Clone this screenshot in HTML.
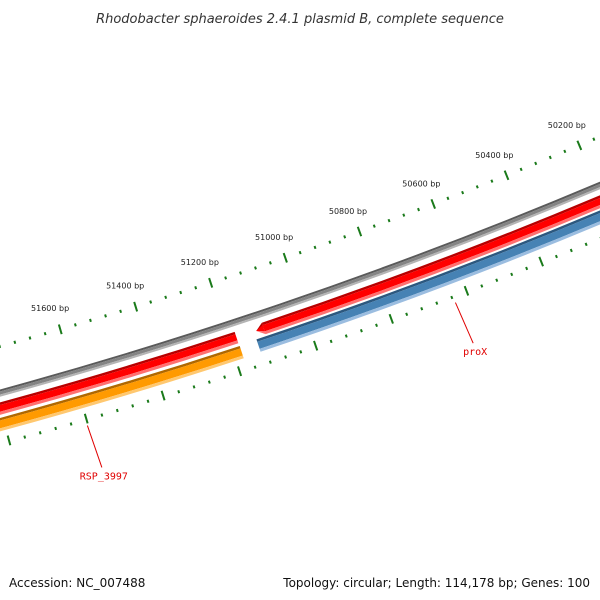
<!DOCTYPE html>
<html><head><meta charset="utf-8"><style>
body{margin:0;background:#fff;}
svg{display:block;font-family:"DejaVu Sans","Liberation Sans",sans-serif;}
</style></head><body>
<svg id="map" width="600" height="600" viewBox="0 0 600 600" xmlns="http://www.w3.org/2000/svg">
<rect width="600" height="600" fill="#fff"/>
<text x="300" y="23" text-anchor="middle" font-size="13" font-style="italic" fill="#333">Rhodobacter sphaeroides 2.4.1 plasmid B, complete sequence</text>
<g id="layer"></g>
<text x="9" y="587" font-size="12" fill="#111">Accession: NC_007488</text>
<text x="590" y="587" text-anchor="end" font-size="12" fill="#111">Topology: circular; Length: 114,178 bp; Genes: 100</text>
</svg>
<script>
const tickLabelBp = [50200, 50400, 50600, 50800, 51000, 51200, 51400, 51600];
const tickStart = 49600, tickEnd = 52200, minorStep = 40, majorStep = 200;
const featureNames = ["RSP_3997-upper", "RSP_3997", "backbone-right-gene", "proX"];
const featureStart = [51181, 51180, 49500, 49500];
const featureEnd = [52600, 52600, 51129, 51135];
const featureLane = ["red", "orange", "red", "blue"];
const featureArrow = [false, false, true, false];
const geneLabels = ["proX", "RSP_3997"];
const geneLabelBp = [50636, 51602];

const CX = -1278, CY = -4271, REF_BP = 51600, REF_DEG = 73.78, DEG_PER_BP = 0.004707;
function ang(bp){ return (REF_DEG - (REF_BP - bp) * DEG_PER_BP) * Math.PI / 180; }
function pt(bp, r){ const a = ang(bp); return [CX + r * Math.cos(a), CY + r * Math.sin(a)]; }
const NS = "http://www.w3.org/2000/svg";
const layer = document.getElementById('layer');
function mk(tag, attrs){ const e = document.createElementNS(NS, tag); for (const k in attrs) e.setAttribute(k, attrs[k]); layer.appendChild(e); return e; }
function sector(b1, b2, r1, r2){
  const p1 = pt(b1, r1), p2 = pt(b2, r1), p3 = pt(b2, r2), p4 = pt(b1, r2);
  const sw1 = b2 < b1 ? 0 : 1;
  return `M${p1[0]},${p1[1]} A${r1},${r1} 0 0 ${sw1} ${p2[0]},${p2[1]} L${p3[0]},${p3[1]} A${r2},${r2} 0 0 ${1-sw1} ${p4[0]},${p4[1]} Z`;
}
const lanes = {
  grey: [[4832.5,4834.5,"#5a5a5a"],[4834.5,4837.5,"#848484"],[4837.5,4839.5,"#b4b4b4"]],
  red: [[4845,4847.5,"#b80000"],[4847.5,4854,"#ff0000"],[4854,4857,"#ff7070"]],
  orange: [[4860,4862.5,"#b06800"],[4862.5,4870,"#ff9a00"],[4870,4873,"#ffc870"]],
  blue: [[4859,4861.5,"#2c587f"],[4861.5,4869,"#4682b4"],[4869,4872,"#9bbde0"]]
};
lanes.grey.forEach(l => {
  const e = mk('path', {d: sector(49400, 52700, l[0], l[1]), fill: l[2]});
  
  
});
for (let i = 0; i < featureNames.length; i++){
  const L = lanes[featureLane[i]];
  let s = featureStart[i], e2 = featureEnd[i];
  const headLen = 20;
  let bodyEnd = featureArrow[i] ? e2 - headLen : e2;
  L.forEach(l => {
    const p = mk('path', {d: sector(s, bodyEnd, l[0], l[1]), fill: l[2]});
    
    
  });
  if (featureArrow[i]){
    const r1 = L[0][0], r2 = L[2][1], rm = (r1 + r2) / 2;
    const a = pt(bodyEnd, r1), b = pt(e2, rm), c = pt(bodyEnd, r2);
    const h1 = mk('polygon', {points: `${a} ${b} ${pt(bodyEnd, rm)}`, fill: L[0][2]});
    
    
    const h2 = mk('polygon', {points: `${pt(bodyEnd, L[0][1])} ${b} ${pt(bodyEnd, L[2][0])}`, fill: L[1][2]});
    
    
    const h3 = mk('polygon', {points: `${b} ${pt(bodyEnd, L[2][0])} ${c}`, fill: L[2][2]});
    
    
  }
}
for (let bp = tickStart; bp <= tickEnd; bp += minorStep){
  const major = bp % majorStep === 0;
  [[4786,4796,4789.5,4792.5],[4879,4889,4883.5,4886.5]].forEach((r, k) => {
    const a = pt(bp, major ? r[0] : r[2]), b = pt(bp, major ? r[1] : r[3]);
    const t = mk('line', {x1:a[0], y1:a[1], x2:b[0], y2:b[1], stroke:"#1a7a1a", 'stroke-width': 2});
    
    
  });
}
tickLabelBp.forEach(bp => {
  const p = pt(bp, 4769);
  const t = mk('text', {x: p[0] - 4, y: p[1] + 3, 'text-anchor': 'middle', 'font-size': 8, fill: '#222'});
  t.textContent = bp + ' bp';
  
  
});
geneLabels.forEach((name, i) => {
  const a = pt(geneLabelBp[i], 4891), b = pt(geneLabelBp[i] - 3, 4935);
  const ln = mk('line', {x1:a[0], y1:a[1], x2:b[0]+1, y2:b[1], stroke:'#e00000', 'stroke-width':1});
  
  
  const t = mk('text', {x: b[0] + 3, y: b[1] + 12, 'text-anchor': 'middle', 'font-size': 10, fill: '#e00000', 'font-family': '"DejaVu Sans Mono","Liberation Mono",monospace'});
  t.textContent = name;
  
  
});
</script>
</body></html>
